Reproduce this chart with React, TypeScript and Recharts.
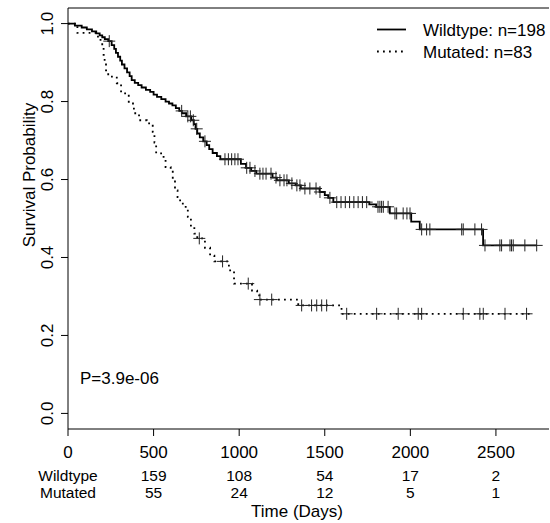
import React from 'react';
import { ComposedChart, Line, Scatter, XAxis, YAxis, ReferenceLine, Customized } from 'recharts';

const FONT = '"Liberation Sans", Arial, Helvetica, sans-serif';

// Kaplan-Meier step points [time (days), survival probability]
const wildtypeCurve: [number, number][] = [
  [0, 1], [40, 0.995], [80, 0.99], [110, 0.985], [140, 0.98], [165, 0.975], [185, 0.97], [200, 0.965],
  [215, 0.96], [235, 0.955], [255, 0.945], [270, 0.935], [280, 0.925], [292, 0.915], [305, 0.905],
  [315, 0.895], [330, 0.885], [345, 0.875], [360, 0.865], [372, 0.855], [390, 0.848], [410, 0.842],
  [430, 0.836], [455, 0.83], [480, 0.825], [500, 0.818], [520, 0.812], [545, 0.806], [570, 0.8],
  [590, 0.795], [610, 0.79], [630, 0.783], [650, 0.776], [665, 0.77], [690, 0.762], [720, 0.752],
  [735, 0.742], [745, 0.73], [755, 0.718], [770, 0.708], [790, 0.698], [810, 0.688], [825, 0.678],
  [845, 0.668], [870, 0.66], [890, 0.652], [1010, 0.64], [1040, 0.63], [1070, 0.622], [1100, 0.615],
  [1195, 0.605], [1220, 0.598], [1290, 0.59], [1330, 0.585], [1360, 0.577], [1470, 0.568], [1500, 0.56],
  [1520, 0.553], [1550, 0.542], [1760, 0.536], [1800, 0.53], [1880, 0.513], [2005, 0.492], [2055, 0.472],
  [2425, 0.431], [2740, 0.431],
];

const mutatedCurve: [number, number][] = [
  [0, 1], [55, 0.976], [175, 0.958], [200, 0.94], [208, 0.92], [214, 0.9], [222, 0.88], [235, 0.864],
  [285, 0.847], [310, 0.821], [355, 0.795], [385, 0.77], [415, 0.752], [460, 0.744], [495, 0.722],
  [505, 0.695], [515, 0.667], [550, 0.658], [570, 0.632], [600, 0.624], [612, 0.598], [625, 0.572],
  [640, 0.555], [655, 0.538], [680, 0.53], [700, 0.504], [718, 0.478], [738, 0.461], [755, 0.449],
  [800, 0.425], [830, 0.405], [855, 0.39], [940, 0.367], [970, 0.333], [1075, 0.315], [1105, 0.303],
  [1118, 0.292], [1345, 0.277], [1598, 0.2555], [2698, 0.2555],
];

// censoring times (days)
const wildtypeCensor = [
  241, 664, 700, 715, 732, 752, 800, 917, 937, 956, 975, 993, 1044, 1063, 1092, 1121, 1139, 1157, 1186,
  1215, 1238, 1262, 1279, 1308, 1337, 1355, 1384, 1413, 1449, 1472, 1530, 1570, 1595, 1620, 1645, 1670,
  1695, 1720, 1745, 1811, 1822, 1832, 1842, 1870, 1910, 1920, 1958, 1980, 1998, 2066, 2095, 2114, 2300,
  2309, 2377, 2416, 2436, 2523, 2533, 2582, 2591, 2601, 2669, 2738,
];
const mutatedCensor = [
  767, 903, 1053, 1121, 1190, 1365, 1423, 1453, 1482, 1511, 1628, 1803, 1929, 2046, 2066, 2309, 2406,
  2426, 2553, 2679,
];

const xTicks = [0, 500, 1000, 1500, 2000, 2500];
const yTicks = [0, 0.2, 0.4, 0.6, 0.8, 1.0];
const riskWildtype = [null, 159, 108, 54, 17, 2];
const riskMutated = [null, 55, 24, 12, 5, 1];
const groupLabels = ['Wildtype', 'Mutated'];
const groupN = [198, 83];
const pValueText = 'P=3.9e-06';

const X_MAX = 2810;
const Y_MIN = -0.04;
const Y_MAX = 1.04;

const toRows = (c: [number, number][]) => c.map(([t, s]) => ({ t, s }));
const stepAt = (c: [number, number][], t: number) => {
  let v = c[0][1];
  for (const [ct, cs] of c) {
    if (ct <= t) v = cs;
  }
  return v;
};
const censorRows = (times: number[], c: [number, number][]) => times.map((t) => ({ t, s: stepAt(c, t) }));

const wtRows = toRows(wildtypeCurve);
const mtRows = toRows(mutatedCurve);
const wtCens = censorRows(wildtypeCensor, wildtypeCurve);
const mtCens = censorRows(mutatedCensor, mutatedCurve);

const Plus = (props: any) => {
  const { cx, cy } = props;
  if (cx == null || cy == null) return null;
  const h = 6;
  return (
    <path d={`M${cx - h},${cy}H${cx + h}M${cx},${cy - h}V${cy + h}`} stroke="#222" strokeWidth={1} fill="none" />
  );
};

const XTick = (props: any) => {
  const { x, y, payload } = props;
  const i = xTicks.indexOf(payload.value);
  return (
    <g fontFamily={FONT} fill="#000" textAnchor="middle">
      <text x={x} y={y + 20} fontSize={17} fill="#000">{payload.value}</text>
      {i === 0 ? (
        <>
          <text x={x} y={y + 43} fontSize={15.5} fill="#000">{groupLabels[0]}</text>
          <text x={x} y={y + 60} fontSize={15.5} fill="#000">{groupLabels[1]}</text>
        </>
      ) : (
        <>
          <text x={x} y={y + 43} fontSize={15.5} fill="#000">{riskWildtype[i]}</text>
          <text x={x} y={y + 60} fontSize={15.5} fill="#000">{riskMutated[i]}</text>
        </>
      )}
    </g>
  );
};

const YTick = (props: any) => {
  const { x, y, payload } = props;
  const tx = x - 6;
  return (
    <text
      x={tx}
      y={y}
      transform={`rotate(-90 ${tx} ${y})`}
      textAnchor="middle"
      fontFamily={FONT}
      fontSize={17}
      fill="#000"
    >
      {Number(payload.value).toFixed(1)}
    </text>
  );
};

const Extras = () => (
  <g fontFamily={FONT} fontSize={17} fill="#000">
    <text x={35} y={175} transform="rotate(-90 35 175)" textAnchor="middle" fill="#000">Survival Probability</text>
    <text x={297} y={517} textAnchor="middle" fill="#000">Time (Days)</text>
    <text x={80} y={384} fill="#000">{pValueText}</text>
    <line x1={377} x2={406} y1={29.5} y2={29.5} stroke="#000" strokeWidth={1.8} />
    <line x1={377} x2={406} y1={51.5} y2={51.5} stroke="#000" strokeWidth={1.8} strokeDasharray="1.8 4.2" />
    <text x={423} y={35.5} fill="#000">{`${groupLabels[0]}: n=${groupN[0]}`}</text>
    <text x={423} y={57.5} fill="#000">{`${groupLabels[1]}: n=${groupN[1]}`}</text>
  </g>
);

export default function App() {
  return (
    <div style={{ position: 'absolute', left: 0, top: 0, width: 550, height: 523, background: '#fff' }}>
      <ComposedChart width={550} height={523} margin={{ top: 8, right: 1, bottom: 0, left: 0 }}>
        <XAxis
          type="number"
          dataKey="t"
          domain={[0, X_MAX]}
          ticks={xTicks}
          allowDataOverflow
          height={94}
          tickSize={7}
          axisLine={false}
          tickLine={{ stroke: '#000' }}
          tick={<XTick />}
          interval={0}
        />
        <YAxis
          type="number"
          dataKey="s"
          domain={[Y_MIN, Y_MAX]}
          ticks={yTicks}
          allowDataOverflow
          width={68}
          tickSize={7}
          axisLine={false}
          tickLine={{ stroke: '#000' }}
          tick={<YTick />}
          interval={0}
        />
        <ReferenceLine y={Y_MAX} stroke="#000" strokeWidth={1} ifOverflow="visible" />
        <ReferenceLine y={Y_MIN} stroke="#000" strokeWidth={1} ifOverflow="visible" />
        <ReferenceLine x={0} stroke="#000" strokeWidth={1} ifOverflow="visible" />
        <Line data={wtRows} dataKey="s" type="stepAfter" stroke="#000" strokeWidth={1.8} dot={false} isAnimationActive={false} />
        <Line data={mtRows} dataKey="s" type="stepAfter" stroke="#000" strokeWidth={1.8} strokeDasharray="1.8 4.2" dot={false} isAnimationActive={false} />
        <Scatter data={wtCens} dataKey="s" shape={<Plus />} isAnimationActive={false} />
        <Scatter data={mtCens} dataKey="s" shape={<Plus />} isAnimationActive={false} />
        <Customized component={<Extras />} />
      </ComposedChart>
    </div>
  );
}
